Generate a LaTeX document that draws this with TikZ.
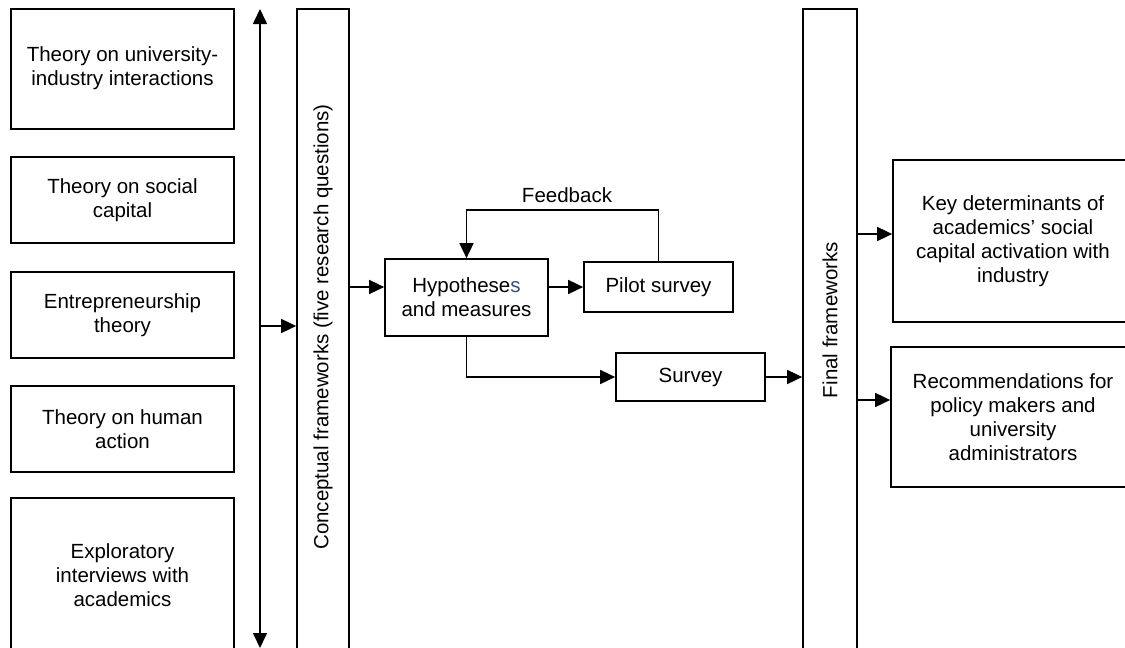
\documentclass[tikz,border=0pt]{standalone}
\usepackage{fontspec}
\setmainfont{Liberation Sans}
\usetikzlibrary{arrows.meta}
\definecolor{slateink}{HTML}{3B4A7A}
\tikzset{
  box/.style={draw, line width=1.7pt, align=center, inner sep=2pt,
    font=\fontsize{20.5}{24}\selectfont},
  tip/.tip={Triangle[length=15pt,width=14pt]},
  arr/.style={line width=1.6pt, -tip},
  lbl/.style={font=\fontsize{20.5}{24}\selectfont}
}
\begin{document}
\begin{tikzpicture}[x=1pt,y=-1pt]
\useasboundingbox (0,0) rectangle (1125,648);

% literature / input boxes
\node[box, minimum width=223pt, minimum height=120pt] (uni) at (122.5,69)
  {\raisebox{6pt}{\begin{tabular}{@{}c@{}}Theory on university-\\industry interactions\end{tabular}}};
\node[box, minimum width=223pt, minimum height=86pt] (soc) at (122.5,200)
  {Theory on social\\capital};
\node[box, minimum width=223pt, minimum height=86pt] (ent) at (122.5,315)
  {Entrepreneurship\\theory};
\node[box, minimum width=223pt, minimum height=86pt] (hum) at (122.5,429)
  {Theory on human\\action};
\node[box, minimum width=223pt, minimum height=154pt] (exp) at (122.5,575)
  {Exploratory\\interviews with\\academics};

% shared two-way spine
\coordinate (spinetop) at (260,9);
\coordinate (spinebot) at (260,648);
\coordinate (split) at (260,326);
\draw[line width=1.6pt, tip-tip] (spinetop) -- (spinebot);

% conceptual frameworks column
\node[box, minimum width=52pt, minimum height=643pt] (concept) at (323,330.5) {};
\node[lbl, rotate=90] (concepttext) at (323,327)
  {Conceptual frameworks (five research questions)};
\draw[arr] (split) -- (split -| concept.west);

% research process
\node[box, minimum width=163pt, minimum height=77pt] (hyp) at (466.5,297.5)
  {Hypothese\textcolor{slateink}{s}\\and measures};
\node[box, minimum width=149pt, minimum height=50pt] (pilot) at (658.5,287)
  {Pilot survey};
\node[box, minimum width=149pt, minimum height=48pt] (survey) at (690.5,377)
  {Survey};
\node[lbl] (fb) at (567,195) {Feedback};

\draw[arr] (concept.east |- pilot.west) -- (hyp.west |- pilot.west);
\draw[arr] (hyp.east |- pilot.west) -- (pilot.west);
\draw[arr] (pilot.north) -- ++(0,-51) -| (hyp.north);
\draw[arr] (hyp.south) |- (survey.west);

% final frameworks column
\node[box, minimum width=54pt, minimum height=643pt] (final) at (830,330.5) {};
\node[lbl, rotate=90] (finaltext) at (830,320) {Final frameworks};
\draw[arr] (survey.east) -- (survey.east -| final.west);

% outcomes
\node[box, minimum width=240pt, minimum height=162pt] (key) at (1013,241)
  {Key determinants of\\academics’ social\\capital activation with\\industry};
\node[box, minimum width=244pt, minimum height=140pt] (rec) at (1013,417)
  {Recommendations for\\policy makers and\\university\\administrators};

\draw[arr] ([yshift=7pt]final.east |- key.west) -- ([yshift=7pt]key.west);
\draw[arr] ([yshift=17pt]final.east |- rec.west) -- ([yshift=17pt]rec.west);
\end{tikzpicture}
\end{document}
